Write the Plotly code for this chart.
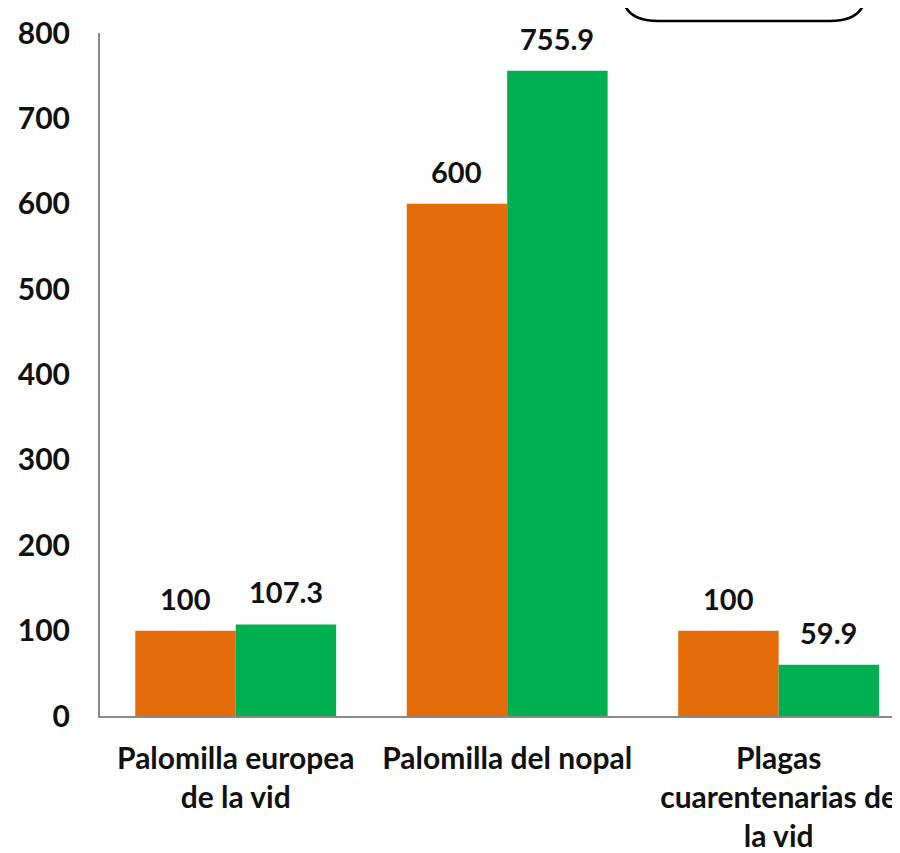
import plotly.graph_objects as go

categories = ["Palomilla europea<br>de la vid", "Palomilla del nopal", "Plagas<br>cuarentenarias de<br>la vid"]
series_a = [100, 600, 100]
series_b = [107.3, 755.9, 59.9]
labels_a = ["100", "600", "100"]
labels_b = ["107.3", "755.9", "59.9"]
y_ticks = [0, 100, 200, 300, 400, 500, 600, 700, 800]

FONT = "Lato"
FS = 30
TXT = "#111111"
# page body has an 8px margin; figure placed so plot area spans window px 100..900, 33..716
W, H = 892, 845
L, R, T, B = 92, 0, 25, 137
XR = [-0.5, 2.447]
BARGAP = 0.26

fig = go.Figure()
fig.add_trace(go.Bar(x=categories, y=series_a, marker=dict(color="#E46C0A", line=dict(width=0))))
fig.add_trace(go.Bar(x=categories, y=series_b, marker=dict(color="#00B050", line=dict(width=0))))

pw = W - L - R
ph = H - T - B
cat_px = pw / (XR[1] - XR[0])
half_bar = cat_px * (1 - BARGAP) / 4

for cat, v, lab in zip(categories, series_a, labels_a):
    fig.add_annotation(x=cat, y=v, text=lab, showarrow=False, xshift=-half_bar, yshift=13,
                       yanchor="bottom", font=dict(family=FONT, size=FS - 1, color=TXT, weight="bold"))
for cat, v, lab in zip(categories, series_b, labels_b):
    fig.add_annotation(x=cat, y=v, text=lab, showarrow=False, xshift=half_bar, yshift=13,
                       yanchor="bottom", font=dict(family=FONT, size=FS - 1, color=TXT, weight="bold"))

def px(x):
    return (x - 100) / pw
def py(y):
    return (716 - y) / ph

x0, x1 = px(622), px(866)
yb = py(21)
ytop = py(-30)
rx = 36 / pw
ry = 30 / ph
path = (f"M {x0},{ytop} L {x0},{yb+ry} Q {x0},{yb} {x0+rx},{yb} "
        f"L {x1-rx},{yb} Q {x1},{yb} {x1},{yb+ry} L {x1},{ytop}")
fig.add_shape(type="path", xref="paper", yref="paper", path=path,
              line=dict(color="#000000", width=2.5))

fig.update_layout(
    width=W, height=H,
    margin=dict(l=L, r=R, t=T, b=B),
    paper_bgcolor="white", plot_bgcolor="white",
    barmode="group", bargap=BARGAP, bargroupgap=0,
    showlegend=False,
    font=dict(family=FONT, size=FS, color=TXT, weight="bold"),
)
fig.update_xaxes(range=XR, showline=True, linecolor="#898989", linewidth=2,
                 ticks="", showgrid=False, ticklabelstandoff=15,
                 tickfont=dict(family=FONT, size=FS, color=TXT, weight="bold"))
fig.update_yaxes(range=[0, 800], tickvals=y_ticks, showline=True, linecolor="#898989", linewidth=2,
                 ticks="", showgrid=False, zeroline=False, ticklabelstandoff=22,
                 tickfont=dict(family=FONT, size=FS, color=TXT, weight="bold"))

fig.write_html("out.html")
